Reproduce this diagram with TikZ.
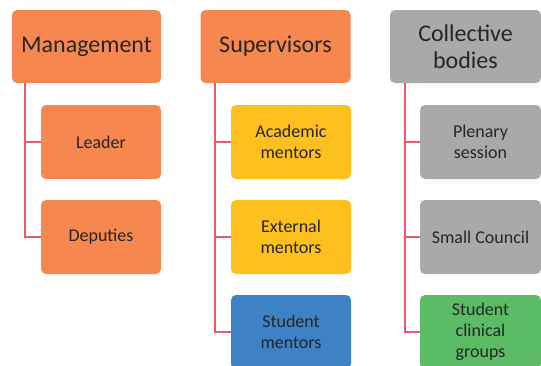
\documentclass[tikz,border=0pt]{standalone}
\usepackage{fontspec}
\setmainfont{Carlito}
\definecolor{corange}{HTML}{F5874F}
\definecolor{cyellow}{HTML}{FDC01E}
\definecolor{cblue}{HTML}{3C82C4}
\definecolor{cgray}{HTML}{A8A9AB}
\definecolor{cgreen}{HTML}{5CBC66}
\definecolor{cline}{HTML}{EC5A66}
\definecolor{ctext}{HTML}{262626}
\tikzset{
  box/.style={rounded corners=5pt, inner sep=0pt, align=center, text=ctext},
  headbox/.style={box, minimum width=150pt, minimum height=73pt, font=\fontsize{24}{27}\selectfont},
  childbox/.style={box, minimum width=120pt, minimum height=74pt, font=\fontsize{18}{21}\selectfont},
  conn/.style={draw=cline, line width=2pt},
}
\begin{document}
\begin{tikzpicture}[x=1pt,y=-1pt]
\useasboundingbox (0,0) rectangle (541,365);
\clip (0,0) rectangle (541,365);
% column 1
\node[headbox, fill=corange, minimum width=149pt] (m) at (86.5,46.5) {Management};
\node[childbox, fill=corange] (lead) at (101,142) {Leader};
\node[childbox, fill=corange] (dep) at (101,237) {Deputies};
\coordinate (m0) at (25,83);
\draw[conn] (m0) |- (lead.west);
\draw[conn] (m0) |- (dep.west);
% column 2
\node[headbox, fill=corange] (s) at (275.5,46.5) {Supervisors};
\node[childbox, fill=cyellow] (acad) at (291,142) {Academic\\mentors};
\node[childbox, fill=cyellow] (ext) at (291,237) {External\\mentors};
\node[childbox, fill=cblue] (stu) at (291,332) {Student\\mentors};
\coordinate (s0) at (215,83);
\draw[conn] (s0) |- (acad.west);
\draw[conn] (s0) |- (ext.west);
\draw[conn] (s0) |- (stu.west);
% column 3
\node[headbox, fill=cgray, minimum width=151pt] (c) at (465.5,46.5) {Collective\\bodies};
\node[childbox, fill=cgray, minimum width=121pt] (plen) at (480.5,142) {Plenary\\session};
\node[childbox, fill=cgray, minimum width=121pt] (small) at (480.5,237) {Small Council};
\node[childbox, fill=cgreen, minimum width=121pt] (clin) at (480.5,332) {Student\\clinical\\groups};
\coordinate (c0) at (405,83);
\draw[conn] (c0) |- (plen.west);
\draw[conn] (c0) |- (small.west);
\draw[conn] (c0) |- (clin.west);
\end{tikzpicture}
\end{document}
